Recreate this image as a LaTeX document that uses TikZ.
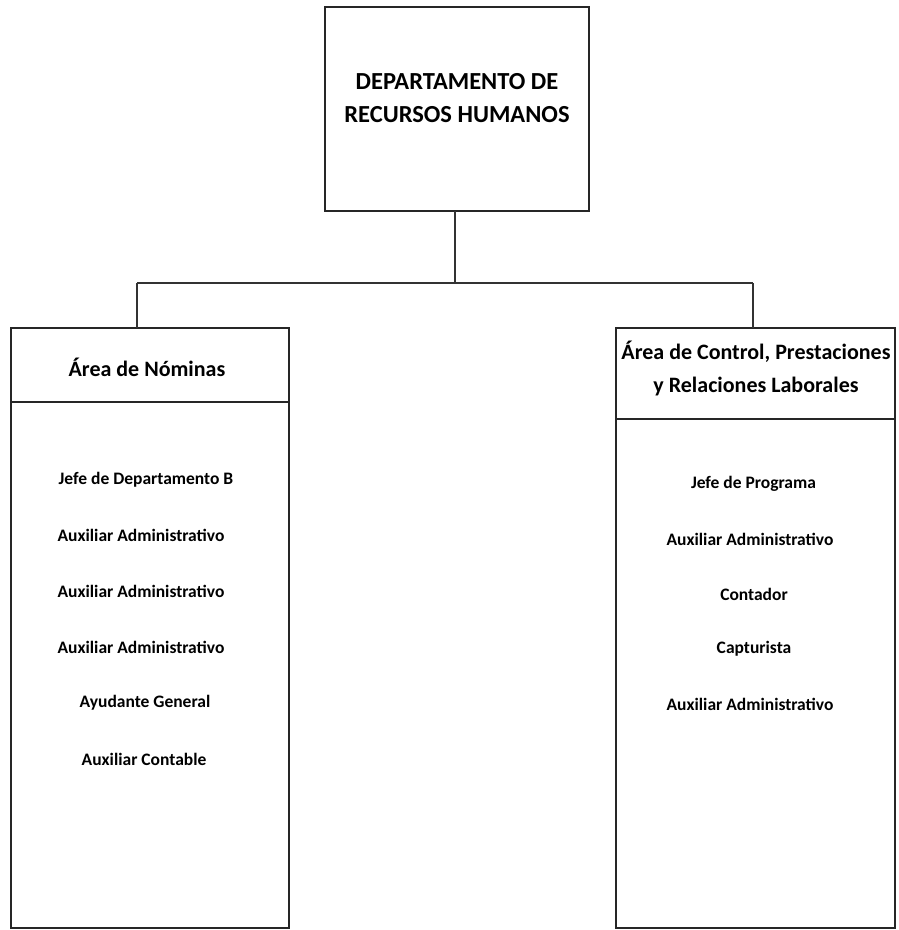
\documentclass[tikz,border=0pt]{standalone}
\usepackage{fontspec}
\setmainfont{Carlito}
\begin{document}
\begin{tikzpicture}[x=1pt,y=-1pt,
  box/.style={draw=black!85,line width=2pt,rectangle,inner sep=0pt,outer sep=0pt},
  title/.style={align=center,inner sep=0pt},
  link/.style={draw=black!80,line width=1.5pt},
  item/.style={font=\fontsize{17.5}{20}\selectfont\bfseries,inner sep=0pt}]
\useasboundingbox[fill=white] (0,0) rectangle (899,930);

% head of the department
\node[box,minimum width=264pt,minimum height=204pt] (dept) at (457,109) {};
\node[title,font=\fontsize{24.5}{33}\selectfont\bfseries] (deptname) at (457,98.5)
  {DEPARTAMENTO DE\\RECURSOS HUMANOS};

% payroll area
\node[box,minimum width=278pt,minimum height=74pt] (nom) at (150,365) {};
\node[box,minimum width=278pt,minimum height=526pt,anchor=north] (nombody) at (nom.south) {};
\node[title,font=\fontsize{22}{33}\selectfont\bfseries] (nomname) at (147,367) {Área de Nóminas};

% control, benefits and labour relations area
\node[box,minimum width=279pt,minimum height=91pt] (ctl) at (755.5,373.5) {};
\node[box,minimum width=279pt,minimum height=509pt,anchor=north] (ctlbody) at (ctl.south) {};
\node[title,font=\fontsize{22}{33}\selectfont\bfseries] (ctlname) at (756,368.5)
  {Área de Control, Prestaciones\\y Relaciones Laborales};

% connectors
\coordinate (j) at (455,283);
\coordinate (lj) at (137,283);
\coordinate (rj) at (753,283);
\draw[link] (dept.south -| j) -- (j);
\draw[link] (lj) -- (rj);
\draw[link] (lj) -- (lj |- nom.north);
\draw[link] (rj) -- (rj |- ctl.north);

% staff of the payroll area
\node[item] (n1) at (146,480) {Jefe de Departamento B};
\node[item] (n2) at (141,535) {Auxiliar Administrativo};
\node[item] (n3) at (141,591) {Auxiliar Administrativo};
\node[item] (n4) at (141,647) {Auxiliar Administrativo};
\node[item] (n5) at (145,703) {Ayudante General};
\node[item] (n6) at (144,759) {Auxiliar Contable};

% staff of the control area
\node[item] (c1) at (753.5,484) {Jefe de Programa};
\node[item] (c2) at (750,539) {Auxiliar Administrativo};
\node[item] (c3) at (754,594) {Contador};
\node[item] (c4) at (754,649) {Capturista};
\node[item] (c5) at (750,704) {Auxiliar Administrativo};
\end{tikzpicture}
\end{document}
